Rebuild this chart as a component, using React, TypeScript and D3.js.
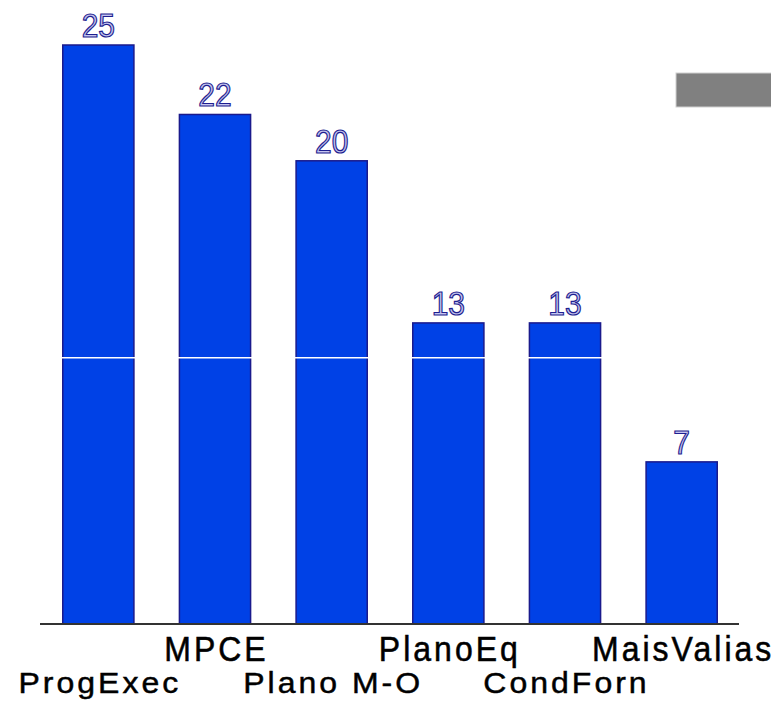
import React from "react";
import * as d3 from "d3";

const categories = ["ProgExec", "MPCE", "Plano M-O", "PlanoEq", "CondForn", "MaisValias"];
const values = [25, 22, 20, 13, 13, 7];
const yMax = 25;
const whiteRuleValue = 11.5;

const W = 771;
const H = 703;
const plot = { left: 40, right: 740, top: 45, bottom: 624 };

export default function App() {
  const x = d3.scaleBand<string>().domain(categories).range([plot.left, plot.right]).paddingInner(0.39).paddingOuter(0.195);
  const y = d3.scaleLinear().domain([0, yMax]).range([plot.bottom, plot.top]);
  const ls = 3;
  return (
    <svg width={W} height={H} style={{ position: "absolute", left: 0, top: 0, background: "#fff" }}>
      {categories.map((c, i) => (
        <rect
          key={c}
          x={x(c)!}
          y={y(values[i])}
          width={x.bandwidth()}
          height={y(0) - y(values[i])}
          fill="#0041e6"
          stroke="#1a1a8c"
          strokeWidth={1.5}
        />
      ))}
      <line x1={plot.left} x2={plot.right} y1={y(whiteRuleValue)} y2={y(whiteRuleValue)} stroke="#fff" strokeWidth={1.5} />
      <line x1={plot.left} x2={plot.right - 1} y1={y(0)} y2={y(0)} stroke="#333" strokeWidth={2} />
      {categories.map((c, i) => (
        <text
          key={"v" + c}
          x={x(c)! + x.bandwidth() / 2}
          y={y(values[i]) - 8}
          textAnchor="middle"
          fontFamily="Liberation Sans, Arial, sans-serif"
          fontSize={30}
          fill="#c4c4ee"
          stroke="#1e1e90"
          strokeWidth={1.1}
          transform={`translate(0, ${(y(values[i]) - 8) * -0.12}) scale(1,1.12)`}
        >
          {values[i]}
        </text>
      ))}
      {categories.map((c, i) => {
        const cx = x(c)! + x.bandwidth() / 2 + ls / 2;
        const row1 = i % 2 === 1;
        const by = row1 ? 661 : 693;
        const sy = row1 ? 1.12 : 0.95;
        return (
          <text
            key={"l" + c}
            x={cx}
            y={by}
            textAnchor="middle"
            fontFamily="Liberation Sans, Arial, sans-serif"
            fontSize={32}
            letterSpacing={ls}
            fill="#000"
            stroke="#000"
            strokeWidth={0.5}
            transform={`translate(0, ${by * (1 - sy)}) scale(1, ${sy})`}
          >
            {c}
          </text>
        );
      })}
      <rect x={676} y={73} width={100} height={34} fill="#808080" stroke="#d0d0d0" strokeWidth={1} />
    </svg>
  );
}
